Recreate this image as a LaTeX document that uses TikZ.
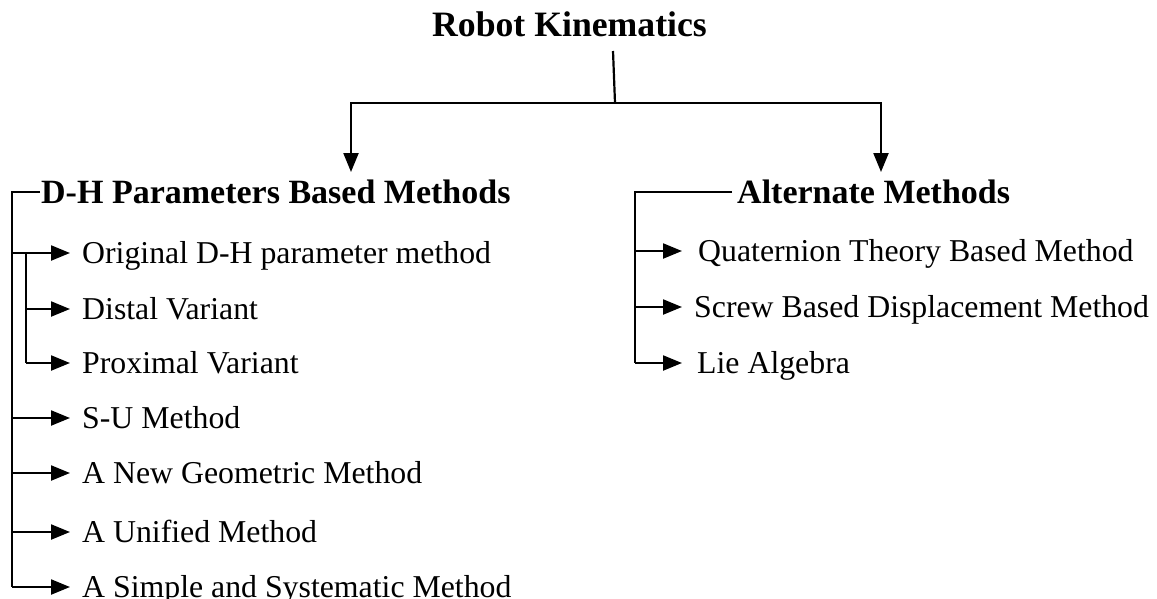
\documentclass[tikz,border=0pt]{standalone}
\usepackage{fontspec}
\setmainfont{Liberation Serif}
\usetikzlibrary{arrows.meta}
\begin{document}
\begin{tikzpicture}[x=1pt,y=-1pt,
  line/.style={line width=2.2pt},
  arr/.style={line width=2.2pt, -{Triangle[length=19pt,width=15pt]}},
  toptitle/.style={font=\fontsize{35.7}{40}\selectfont\bfseries, inner sep=0pt, anchor=base},
  head/.style={font=\fontsize{34}{38}\selectfont\bfseries, inner sep=0pt, anchor=west,
               text height=23pt, text depth=1pt},
  item/.style={font=\fontsize{31.8}{36}\selectfont, inner sep=0pt, anchor=west,
               text height=21pt, text depth=1pt}]
\useasboundingbox (0,0) rectangle (1157,598);

% root
\node[toptitle] (root) at (569.5,36) {Robot Kinematics};
\coordinate (stemtop) at (613,51);
\coordinate (fork) at (615,103);
\coordinate (dhin) at (351,172);
\coordinate (altin) at (881,172);
\draw[line] (stemtop) -- (fork);
\draw[arr] (fork) -| (dhin);
\draw[arr] (fork) -| (altin);

% D-H branch
\node[head] (dh) at (41,192) {D-H Parameters Based Methods};
\node[item] (i1) at (82,253) {Original D-H parameter method};
\node[item] (i2) at (82,309) {Distal Variant};
\node[item] (i3) at (82,363) {Proximal Variant};
\node[item] (i4) at (82,418) {S-U Method};
\node[item] (i5) at (82,473) {A New Geometric Method};
\node[item] (i6) at (82,532) {A Unified Method};
\node[item] (i7) at (82,587) {A Simple and Systematic Method};

\coordinate (spineL) at (12,0);
\coordinate (subL) at (26,0);
\coordinate (tipL) at (70,0);

\draw[line] ([xshift=-1pt]dh.west) -| (spineL |- i7.west);
\draw[line] (subL |- i1.west) -- (subL |- i3.west);
\foreach \n in {i1,i4,i5,i6,i7}
  \draw[arr] (spineL |- \n.west) -- (tipL |- \n.west);
\foreach \n in {i2,i3}
  \draw[arr] (subL |- \n.west) -- (tipL |- \n.west);

% alternate branch
\node[head] (alt) at (737,192) {Alternate Methods};
\node[item] (a1) at (698,251) {Quaternion Theory Based Method};
\node[item] (a2) at (694,307) {Screw Based Displacement Method};
\node[item] (a3) at (697,363) {Lie Algebra};

\coordinate (spineR) at (635,0);
\coordinate (tipR) at (682,0);

\draw[line] ([xshift=-5pt]alt.west) -| (spineR |- a3.west);
\foreach \n in {a1,a2,a3}
  \draw[arr] (spineR |- \n.west) -- (tipR |- \n.west);
\end{tikzpicture}
\end{document}
